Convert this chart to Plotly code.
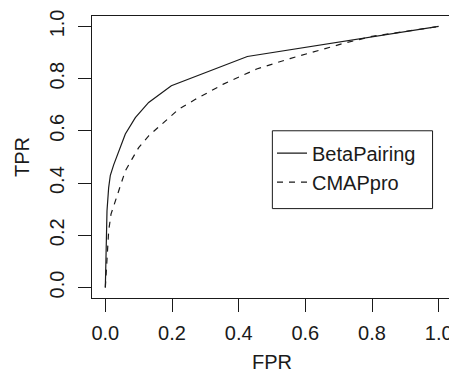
import plotly.graph_objects as go

# ---- data ----
beta_fpr = [0, 0.001, 0.002, 0.005, 0.010, 0.015, 0.025, 0.040, 0.060, 0.090, 0.130, 0.198, 0.426, 1.0]
beta_tpr = [0, 0.10, 0.19, 0.294, 0.383, 0.43, 0.47, 0.524, 0.588, 0.651, 0.709, 0.773, 0.885, 1.0]

cmap_fpr = [0, 0.003, 0.005, 0.010, 0.017, 0.030, 0.045, 0.060, 0.080, 0.100, 0.130, 0.170,
            0.220, 0.269, 0.354, 0.454, 0.554, 0.654, 0.714, 0.80, 1.0]
cmap_tpr = [0, 0.064, 0.141, 0.217, 0.281, 0.332, 0.39, 0.447, 0.492, 0.536, 0.581, 0.626,
            0.683, 0.720, 0.779, 0.837, 0.877, 0.913, 0.935, 0.962, 1.0]

tick_vals = [0.0, 0.2, 0.4, 0.6, 0.8, 1.0]
tick_text = ["0.0", "0.2", "0.4", "0.6", "0.8", "1.0"]

FONT = "Liberation Sans, Arial, Helvetica, sans-serif"
INK = "#1a1a1a"

fig = go.Figure()
fig.add_trace(go.Scatter(x=beta_fpr, y=beta_tpr, mode="lines", name="BetaPairing",
                         line=dict(color=INK, width=1.2)))
fig.add_trace(go.Scatter(x=cmap_fpr, y=cmap_tpr, mode="lines", name="CMAPpro",
                         line=dict(color=INK, width=1.2, dash="6px,6px")))

axis_common = dict(
    tickmode="array", tickvals=tick_vals, ticktext=tick_text,
    ticks="outside", ticklen=13, tickwidth=1, tickcolor=INK,
    showline=True, linecolor=INK, linewidth=1, mirror=True,
    showgrid=False, zeroline=False, automargin=False,
    tickfont=dict(family=FONT, size=20, color=INK),
)

# page body has an 8px margin, so the figure is 8px smaller and shifted
fig.update_layout(
    width=449, height=365,
    margin=dict(l=84, r=5, t=8, b=75, pad=0),
    paper_bgcolor="white", plot_bgcolor="white",
    font=dict(family=FONT, size=20, color=INK),
    xaxis=dict(range=[-0.04, 1.04], title=dict(text="FPR", standoff=18,
               font=dict(family=FONT, size=20, color=INK)), ticklabelstandoff=4, **axis_common),
    yaxis=dict(range=[-0.04, 1.04], tickangle=-90, title=dict(text="TPR", standoff=11,
               font=dict(family=FONT, size=20, color=INK)), ticklabelstandoff=6, **axis_common),
    showlegend=True,
    legend=dict(x=0.5, y=0.583, xanchor="left", yanchor="top",
                bgcolor="rgba(0,0,0,0)", borderwidth=0,
                font=dict(family=FONT, size=20, color=INK), tracegroupgap=0),
    shapes=[dict(type="rect", xref="paper", yref="paper", x0=0.501, x1=0.946, y0=0.317, y1=0.593,
                 line=dict(color=INK, width=1), fillcolor="rgba(0,0,0,0)", layer="above")],
)

fig.write_html("out.html")
